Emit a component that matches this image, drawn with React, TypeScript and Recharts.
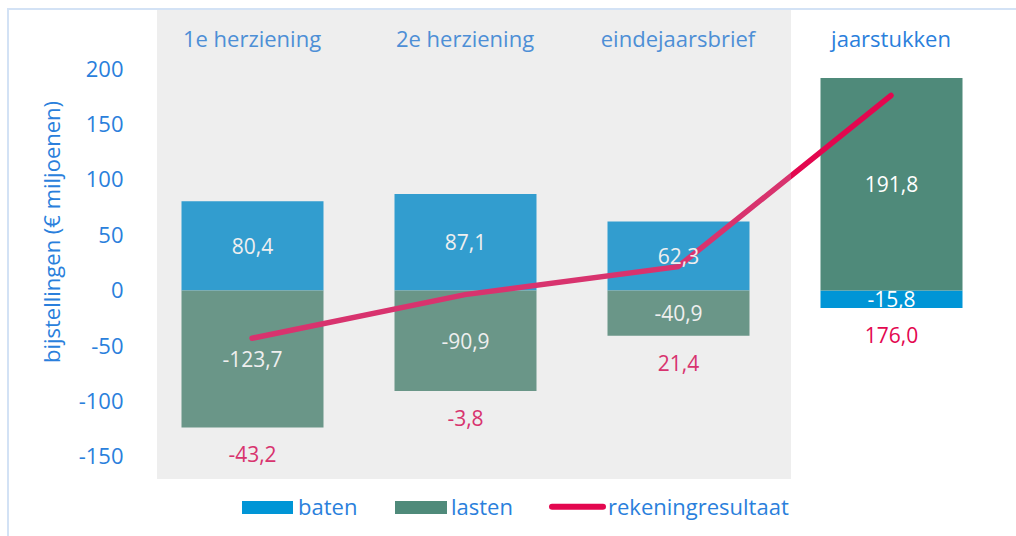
import React from 'react';
import {
  ComposedChart,
  Bar,
  Line,
  XAxis,
  YAxis,
  ReferenceArea,
  LabelList,
  Cell,
} from 'recharts';

const categories = ['1e herziening', '2e herziening', 'eindejaarsbrief', 'jaarstukken'];
const baten = [80.4, 87.1, 62.3, -15.8];
const lasten = [-123.7, -90.9, -40.9, 191.8];
const rekeningresultaat = [-43.2, -3.8, 21.4, 176.0];
const yTicks = [-150, -100, -50, 0, 50, 100, 150, 200];
// first three categories sit under the grey panel
const shaded = [true, true, true, false];

const data = categories.map((name, i) => ({
  name,
  baten: baten[i],
  lasten: lasten[i],
  resultaat: rekeningresultaat[i],
}));

const FONT = '"Open Sans", sans-serif';
const TEXT_BLUE = '#2a7fdc';
const TEXT_BLUE_SHADED = '#4d8fd6';
const BLUE = '#0095d6';
const BLUE_SHADED = '#329dcf';
const GREEN = '#4f8a7a';
const GREEN_SHADED = '#6a9688';
const RED = '#e3074f';
const RED_SHADED = '#d8336e';
const WHITE_SHADED = '#efefef';

const fmt = (v: number) => v.toFixed(1).replace('.', ',');

const CategoryTick = (props: any) => {
  const { x, payload, index } = props;
  return (
    <text
      x={x}
      y={47}
      textAnchor="middle"
      fill={shaded[index] ? TEXT_BLUE_SHADED : TEXT_BLUE}
      fontSize={22}
      fontFamily={FONT}
    >
      {payload.value}
    </text>
  );
};

const valueLabel = (props: any) => {
  const { x, y, width, height, value, index } = props;
  return (
    <text
      x={x + width / 2}
      y={y + height / 2}
      textAnchor="middle"
      dominantBaseline="central"
      fill={shaded[index] ? WHITE_SHADED : '#ffffff'}
      fontSize={21}
      fontFamily={FONT}
    >
      {fmt(value)}
    </text>
  );
};

// result label sits under whichever bar is negative
const resultLabel = (props: any) => {
  const { x, y, width, height, value, index } = props;
  if (value >= 0) return null;
  const bottom = Math.max(y, y + height);
  return (
    <text
      x={x + width / 2}
      y={bottom + 27}
      textAnchor="middle"
      dominantBaseline="central"
      fill={shaded[index] ? RED_SHADED : RED}
      fontSize={21}
      fontFamily={FONT}
    >
      {fmt(rekeningresultaat[index])}
    </text>
  );
};

const PanelShape = (props: any) => {
  const { x, y, width, height } = props;
  return <rect x={x + 11.5} y={y} width={width - 5} height={height} fill="#eeeeee" />;
};

const ChartLegend = () => (
  <svg width={1016} height={40} style={{ position: 'absolute', left: 0, top: 490 }}>
    <g fontFamily={FONT} fontSize={22} fill={TEXT_BLUE}>
      <rect x={242} y={11} width={51} height={13} fill={BLUE} />
      <text x={298} y={25}>baten</text>
      <rect x={395} y={11} width={52} height={13} fill={GREEN} />
      <text x={451} y={25}>lasten</text>
      <line x1={552} y1={16.7} x2={603} y2={16.7} stroke={RED} strokeWidth={6} strokeLinecap="round" />
      <text x={608} y={25}>rekeningresultaat</text>
    </g>
  </svg>
);

export default function App() {
  return (
    <div style={{ position: 'relative', width: 1016, height: 536, background: '#fff', overflow: 'hidden' }}>
      <style>{'body{margin:0}'}</style>
      <div
        style={{
          position: 'absolute',
          left: 7,
          top: 8,
          width: 1009,
          height: 528,
          borderTop: '2px solid #d3e2f5',
          borderLeft: '2px solid #d3e2f5',
        }}
      />
      <div style={{ position: 'absolute', left: 0, top: 0 }}>
        <ComposedChart
          width={1016}
          height={536}
          data={data}
          stackOffset="sign"
          margin={{ top: 9, right: 18.5, bottom: 57, left: 0 }}
        >
          <defs>
            <linearGradient id="lineGrad" gradientUnits="userSpaceOnUse" x1={0} y1={0} x2={1016} y2={0}>
              <stop offset={791 / 1016} stopColor={RED_SHADED} />
              <stop offset={791 / 1016} stopColor={RED} />
            </linearGradient>
          </defs>
          <XAxis
            dataKey="name"
            orientation="top"
            height={1}
            axisLine={false}
            tickLine={false}
            tick={<CategoryTick />}
            interval={0}
          />
          <YAxis
            width={145.5}
            domain={[-170.3, 253.2]}
            ticks={yTicks}
            allowDataOverflow
            axisLine={false}
            tickLine={false}
            tickSize={0}
            tickMargin={22}
            tick={{ fill: TEXT_BLUE, fontSize: 22, fontFamily: FONT }}
            label={{
              content: () => (
                <text
                  transform="translate(51,232) rotate(-90)"
                  textAnchor="middle"
                  dominantBaseline="central"
                  fill={TEXT_BLUE}
                  fontSize={22}
                  fontFamily={FONT}
                >
                  bijstellingen (€ miljoenen)
                </text>
              ),
            }}
          />
          <ReferenceArea x1="1e herziening" x2="eindejaarsbrief" shape={<PanelShape />} />
          <Bar dataKey="baten" stackId="a" fill={BLUE} barSize={142} isAnimationActive={false}>
            {data.map((d, i) => (
              <Cell key={d.name} fill={shaded[i] ? BLUE_SHADED : BLUE} />
            ))}
            <LabelList dataKey="baten" content={valueLabel} />
            <LabelList dataKey="baten" content={resultLabel} />
          </Bar>
          <Bar dataKey="lasten" stackId="a" fill={GREEN} barSize={142} isAnimationActive={false}>
            {data.map((d, i) => (
              <Cell key={d.name} fill={shaded[i] ? GREEN_SHADED : GREEN} />
            ))}
            <LabelList dataKey="lasten" content={valueLabel} />
            <LabelList dataKey="lasten" content={resultLabel} />
          </Bar>
          <Line
            type="linear"
            dataKey="resultaat"
            stroke="url(#lineGrad)"
            strokeWidth={5.5}
            strokeLinecap="round"
            dot={false}
            activeDot={false}
            isAnimationActive={false}
          />
        </ComposedChart>
      </div>
      <ChartLegend />
    </div>
  );
}
